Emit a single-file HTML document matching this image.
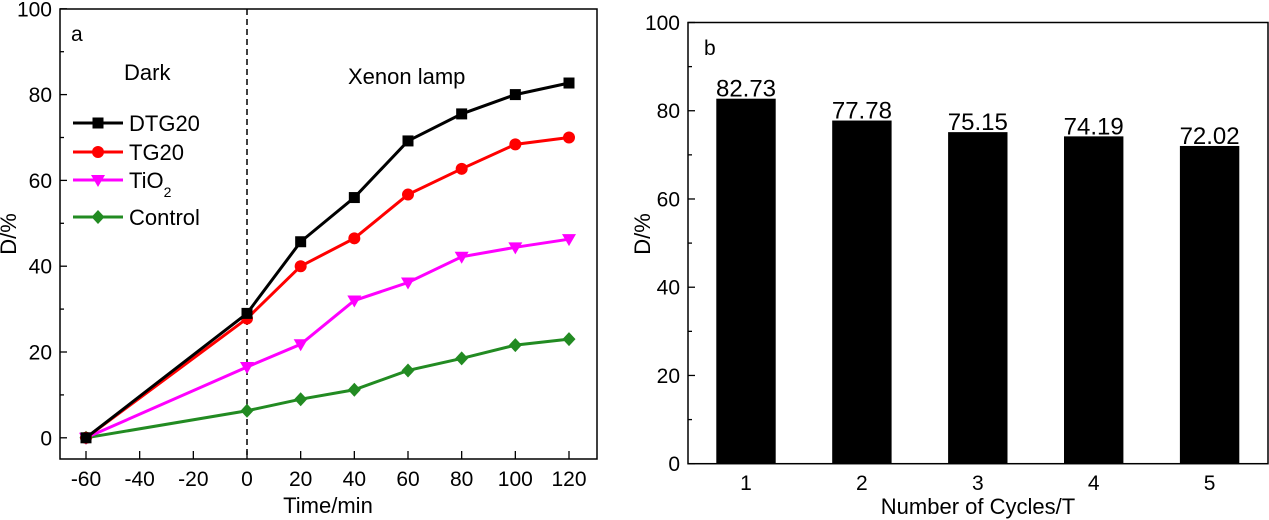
<!DOCTYPE html>
<html><head><meta charset="utf-8"><style>
body{margin:0;background:#fff}
svg{display:block;font-family:"Liberation Sans",Arial,sans-serif}
</style></head><body>
<svg id="s" width="1269" height="520" viewBox="0 0 1269 520"></svg>
<script>
const times=[-60,0,20,40,60,80,100,120];
const dtg20=[0,29,45.7,56,69.2,75.5,80,82.7];
const tg20=[0,27.8,40,46.5,56.7,62.7,68.4,70];
const tio2=[0,16.5,21.8,32,36.2,42.2,44.4,46.3];
const control=[0,6.3,9,11.2,15.7,18.5,21.6,23];
const xTicksA=[-60,-40,-20,0,20,40,60,80,100,120];
const yTicks=[0,20,40,60,80,100];
const cycles=["1","2","3","4","5"];
const cycleVals=[82.73,77.78,75.15,74.19,72.02];

const S=document.getElementById('s');
const NS='http://www.w3.org/2000/svg';
function el(t,a,txt){const e=document.createElementNS(NS,t);for(const k in a)e.setAttribute(k,a[k]);if(txt!==undefined)e.textContent=txt;S.appendChild(e);return e;}

const ax=v=>86+(v+60)*(483/180);
const ay=v=>437.8-v*4.29;
let e;
e=el('rect',{x:60,y:9,width:537,height:450,fill:'none',stroke:'#000','stroke-width':1.5});

for(let v=0;v<=100;v+=10){const y=ay(v);el('line',{x1:60,x2:v%20?64:67,y1:y,y2:y,stroke:'#000','stroke-width':1.3});}
yTicks.forEach(v=>{e=el('text',{x:52,y:ay(v)+7.5,'text-anchor':'end','font-size':21},v);});
xTicksA.forEach(v=>{const x=ax(v);el('line',{x1:x,x2:x,y1:459,y2:451,stroke:'#000','stroke-width':1.3});
e=el('text',{x:x,y:486,'text-anchor':'middle','font-size':21},v);});
e=el('text',{x:328,y:513,'text-anchor':'middle','font-size':22},'Time/min');
e=el('text',{x:0,y:0,transform:'translate(16,234) rotate(-90)','text-anchor':'middle','font-size':22},'D/%');
e=el('line',{x1:ax(0),x2:ax(0),y1:9,y2:459,stroke:'#000','stroke-width':1.5,'stroke-dasharray':'6,4'});
e=el('text',{x:71,y:41,'font-size':21},'a');
e=el('text',{x:124,y:80,'font-size':22},'Dark');
e=el('text',{x:348,y:84,'font-size':22},'Xenon lamp');

function marker(type,x,y,c){
 if(type==='sq')return el('rect',{x:x-5.5,y:y-5.5,width:11,height:11,fill:c});
 if(type==='ci')return el('circle',{cx:x,cy:y,r:6,fill:c});
 if(type==='tri')return el('polygon',{points:`${x-7},${y-5} ${x+7},${y-5} ${x},${y+7}`,fill:c});
 return el('polygon',{points:`${x},${y-7} ${x+6.5},${y} ${x},${y+7} ${x-6.5},${y}`,fill:c});
}
const series=[['DTG20',dtg20,'#000','sq'],['TG20',tg20,'#f00','ci'],['TiO2',tio2,'#f0f','tri'],['Control',control,'#228b22','dia']];
series.slice().reverse().forEach(([n,d,c,m])=>{
 e=el('polyline',{points:d.map((v,i)=>ax(times[i])+','+ay(v)).join(' '),fill:'none',stroke:c,'stroke-width':3});
 
 d.forEach((v,i)=>{e=marker(m,ax(times[i]),ay(v),c);});
});
const legY=[123,152,180,217];
series.forEach(([n,d,c,m],i)=>{
 const y=legY[i];
 e=el('line',{x1:73,x2:123,y1:y,y2:y,stroke:c,'stroke-width':3});
 e=marker(m,98,y,c);
 if(n==='TiO2'){e=el('text',{x:129,y:y+8,'font-size':22});e.innerHTML='TiO<tspan font-size="14" dy="9">2</tspan>';}
 else e=el('text',{x:129,y:y+8,'font-size':22},n);
 
});

const bx=i=>746+i*115.9;
const by=v=>463.7-v*4.412;
e=el('rect',{x:688,y:22.5,width:580,height:441.2,fill:'none',stroke:'#000','stroke-width':1.5});

for(let v=0;v<=100;v+=10){const y=by(v);el('line',{x1:688,x2:v%20?692:695,y1:y,y2:y,stroke:'#000','stroke-width':1.3});}
yTicks.forEach(v=>{e=el('text',{x:680,y:by(v)+7.5,'text-anchor':'end','font-size':21},v);});
cycleVals.forEach((v,i)=>{
 const x=bx(i);
 e=el('rect',{x:x-29.7,y:by(v),width:59.4,height:by(0)-by(v),fill:'#000'});
 e=el('text',{x:x,y:by(v)-2,'text-anchor':'middle','font-size':24},v.toFixed(2));
 e=el('text',{x:x,y:490,'text-anchor':'middle','font-size':21},cycles[i]);
});
e=el('text',{x:978,y:514,'text-anchor':'middle','font-size':22},'Number of Cycles/T');
e=el('text',{x:0,y:0,transform:'translate(650,234) rotate(-90)','text-anchor':'middle','font-size':22},'D/%');
e=el('text',{x:704,y:55,'font-size':21},'b');
</script>
</body></html>
